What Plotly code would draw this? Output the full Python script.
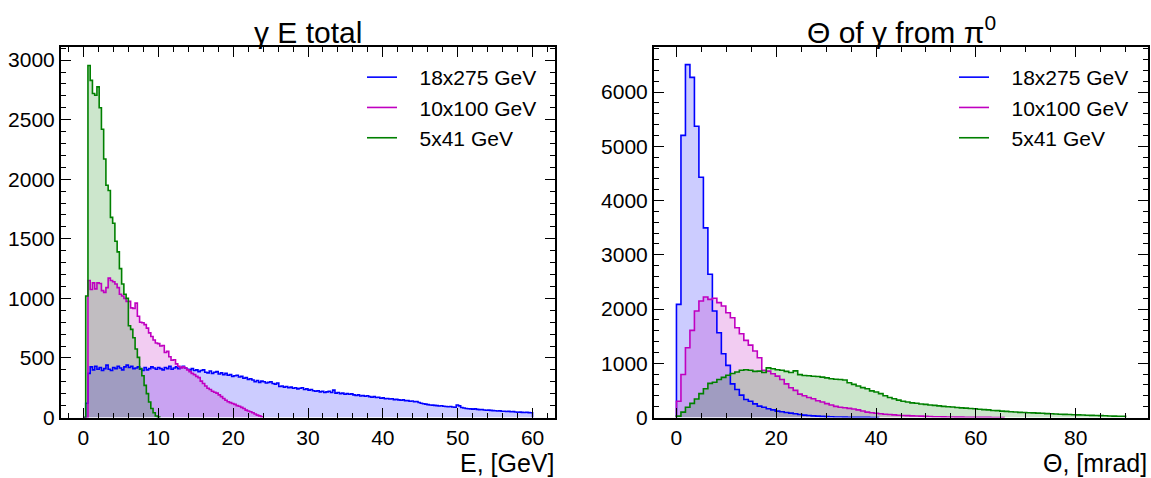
import plotly.graph_objects as go

# ---------------- data ----------------
series_names = ["18x275 GeV", "10x100 GeV", "5x41 GeV"]
line_colors = ["#0000ff", "#c000c0", "#008000"]
fill_colors = ["rgba(0,0,255,0.2)", "rgba(191,0,191,0.2)", "rgba(0,128,0,0.2)"]

# Left panel: gamma total energy, bins of 0.3 GeV starting at 0
e_bin_width = 0.3
e_blue = [0, 120, 370, 425, 400, 430, 405, 420, 395, 410, 440, 405, 395, 420, 410, 430, 415, 400, 425, 440,
          420, 430, 410, 415, 425, 405, 395, 420, 400, 410, 425, 415, 405, 420, 410, 400, 420, 410, 430, 405,
          415, 425, 410, 420, 430, 415, 405, 400, 410, 395, 400, 385, 395, 400, 380, 375, 390, 370, 380, 385,
          365, 375, 360, 370, 355, 360, 345, 350, 355, 340, 345, 330, 335, 320, 325, 315, 300, 310, 295, 305,
          300, 290, 295, 300, 285, 280, 290, 260, 265, 255, 260, 250, 255, 245, 250, 240, 245, 250, 235, 240,
          230, 235, 225, 220, 225, 215, 220, 210, 215, 220, 210, 230, 205, 210, 200, 205, 195, 200, 195, 198,
          190, 185, 190, 180, 185, 178, 182, 175, 170, 175, 168, 170, 162, 165, 158, 160, 155, 158, 150, 152,
          148, 145, 148, 140, 142, 136, 138, 132, 134, 126, 120, 116, 112, 108, 105, 104, 102, 100, 97, 99,
          95, 92, 90, 92, 88, 86, 105, 98, 84, 80, 76, 74, 72, 70, 72, 68, 66, 67, 63, 61,
          62, 60, 58, 57, 55, 56, 53, 52, 50, 51, 48, 49, 46, 44, 45, 43, 42, 44, 41, 40]
e_magenta = [0, 0, 1150, 1075, 1130, 1080, 1130, 1125, 1065, 1050, 1090, 1170, 1150, 1140, 1120, 1090, 1035,
             1020, 1000, 975, 975, 920, 915, 960, 850, 800, 795, 780, 750, 710, 680, 650, 625, 620, 600, 605,
             545, 555, 510, 480, 485, 450, 430, 415, 425, 415, 400, 385, 370, 360, 345, 335, 305, 285, 265, 245,
             235, 220, 212, 205, 190, 175, 160, 145, 132, 125, 118, 110, 100, 95, 85, 75, 62, 55, 48, 40, 30,
             20, 14, 6]
e_green = [0, 1020, 2955, 2830, 2720, 2705, 2775, 2600, 2420, 2170, 1950, 1905, 1680, 1630, 1480, 1390, 1250,
           1120, 1035, 1000, 770, 740, 670, 575, 505, 410, 350, 270, 200, 130, 75, 40, 12, 3]

# Right panel: theta of gamma from pi0, bins of 0.9 mrad starting at 0
t_bin_width = 0.9
t_blue = [2086, 5200, 6505, 6270, 5370, 4430, 3495, 2640, 1963, 1563, 1175, 960, 620, 517, 412, 332, 300, 252,
          209, 190, 160, 141, 117, 105, 92, 80, 68, 55, 43, 37, 30, 25, 20, 16, 13, 10, 8, 6, 5, 4, 3, 2, 2, 1, 1]
t_magenta = [300, 794, 1286, 1606, 1963, 2148, 2222, 2178, 2197, 2117, 2055, 1932, 1840, 1655, 1545, 1421, 1335,
             1225, 1102, 868, 855, 806, 763, 700, 620, 548, 500, 430, 400, 370, 345, 310, 285, 255, 230, 205,
             190, 180, 168, 158, 140, 120, 100, 88, 78, 68, 60, 55, 48, 42, 38, 34, 30, 27, 25, 21, 18, 15, 13,
             11, 10, 8, 7, 6, 5, 4, 4, 3, 2, 2, 1, 1, 1]
t_green = [25, 100, 190, 260, 340, 440, 530, 630, 650, 700, 740, 780, 810, 840, 870, 880, 870, 850, 855, 830,
           915, 900, 880, 870, 850, 830, 860, 790, 775, 770, 760, 755, 745, 730, 715, 705, 700, 690, 640, 610,
           580, 550, 530, 490, 470, 440, 400, 370, 345, 320, 300, 285, 270, 262, 250, 242, 230, 224, 215, 205,
           198, 194, 185, 178, 172, 167, 160, 152, 145, 140, 130, 126, 118, 112, 105, 102, 95, 92, 88, 85,
           80, 77, 72, 68, 64, 61, 57, 54, 50, 48, 45, 42, 40, 37, 34, 31, 28, 26, 24, 22]

title_left = "γ E total"
title_right = "Θ of γ from π<sup>0</sup>"
xlabel_left = "E, [GeV]"
xlabel_right = "Θ, [mrad]"


def step_xy(values, width):
    xs = [0.0]
    ys = [0]
    for i, v in enumerate(values):
        xs.append(i * width)
        ys.append(v)
    xs.append(len(values) * width)
    ys.append(values[-1])
    xs.append(len(values) * width)
    ys.append(0)
    return xs, ys


W, H = 1151, 478
FONT = "Liberation Sans, Arial, Helvetica, sans-serif"
GAP = "\u00a0\u00a0\u00a0"  # wider gap between legend line and label

fig = go.Figure()

panels = [([e_blue, e_magenta, e_green], e_bin_width, "x", "y", "legend"),
          ([t_blue, t_magenta, t_green], t_bin_width, "x2", "y2", "legend2")]

# filled areas first
for sets, bw, xa, ya, lg in panels:
    for i, vals in enumerate(sets):
        xs, ys = step_xy(vals, bw)
        fig.add_trace(go.Scatter(x=xs, y=ys, mode="lines", line=dict(shape="hv", width=0, color=line_colors[i]),
                                 fill="tozeroy", fillcolor=fill_colors[i], showlegend=False,
                                 xaxis=xa, yaxis=ya, hoverinfo="skip"))
# outlines on top
for sets, bw, xa, ya, lg in panels:
    for i, vals in enumerate(sets):
        xs, ys = step_xy(vals, bw)
        fig.add_trace(go.Scatter(x=xs, y=ys, mode="lines", line=dict(shape="hv", color=line_colors[i], width=1.6),
                                 name=GAP + series_names[i], legend=lg, showlegend=True,
                                 xaxis=xa, yaxis=ya, hoverinfo="skip"))


def axis_style(dtick, minor_dtick, rng, domain, anchor):
    return dict(range=rng, domain=domain, anchor=anchor, automargin=False,
                showgrid=False, zeroline=False,
                showline=True, linecolor="black", linewidth=2, mirror="allticks",
                ticks="inside", ticklen=10, tickwidth=1, tickcolor="black",
                tick0=0, dtick=dtick,
                minor=dict(ticks="inside", ticklen=5, tickwidth=1, tickcolor="black", dtick=minor_dtick,
                           tick0=0, showgrid=False),
                tickfont=dict(family=FONT, size=21, color="black"))

ydom = [1 - 417.5 / H, 1 - 47 / H]
xdom1 = [61 / W, 555 / W]
xdom2 = [654 / W, 1148 / W]

legend_common = dict(xanchor="left", yanchor="top", bgcolor="rgba(0,0,0,0)",
                     font=dict(family=FONT, size=21, color="black"))

fig.update_layout(
    width=W, height=H, margin=dict(l=0, r=0, t=0, b=0, pad=0, autoexpand=False),
    paper_bgcolor="white", plot_bgcolor="white",
    font=dict(family=FONT, color="black"),
    xaxis=axis_style(10, 2, [-3, 63], xdom1, "y"),
    yaxis=axis_style(500, 100, [0, 3110], ydom, "x"),
    xaxis2=axis_style(20, 5, [-4.5, 94.5], xdom2, "y2"),
    yaxis2=axis_style(1000, 200, [0, 6830], ydom, "x2"),
    legend=dict(x=362 / W, y=1 - 57 / H, **legend_common),
    legend2=dict(x=954 / W, y=1 - 57 / H, **legend_common),
    showlegend=True,
)

ann_font_t = dict(family=FONT, size=30, color="black")
ann_font_x = dict(family=FONT, size=25, color="black")
fig.add_annotation(text=title_left, xref="x domain", yref="y domain", x=0.5, y=(417.5 - 32) / 370.5,
                   xanchor="center", yanchor="middle", showarrow=False, font=ann_font_t)
fig.add_annotation(text=title_right, xref="x2 domain", yref="y2 domain", x=0.5, y=(417.5 - 30) / 370.5,
                   xanchor="center", yanchor="middle", showarrow=False, font=ann_font_t)
fig.add_annotation(text=xlabel_left, xref="x domain", yref="y domain", x=1, y=(417.5 - 463) / 370.5,
                   xanchor="right", yanchor="middle", showarrow=False, font=ann_font_x, borderpad=0)
fig.add_annotation(text=xlabel_right, xref="x2 domain", yref="y2 domain", x=1, y=(417.5 - 463) / 370.5,
                   xanchor="right", yanchor="middle", showarrow=False, font=ann_font_x, borderpad=0)

fig.write_html("out.html", config={"displayModeBar": False},
               post_script="document.body.style.margin='0';document.body.style.overflow='hidden';")
